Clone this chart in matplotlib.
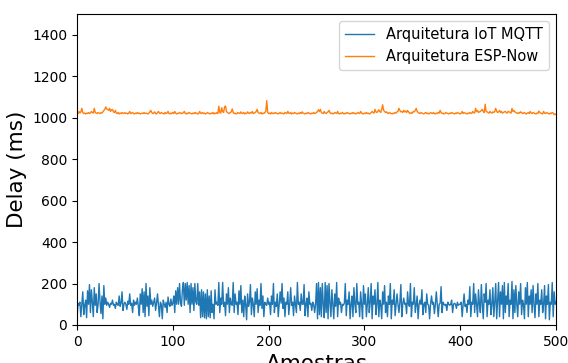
import matplotlib
matplotlib.use('Agg')
import matplotlib.pyplot as plt

# delay readings (ms) per sample
mqtt = [
    30, 105, 95, 110, 40, 100, 160, 50, 95, 120,
    35, 165, 100, 195, 60, 170, 110, 40, 180, 95,
    150, 60, 100, 200, 110, 55, 140, 30, 190, 100,
    130, 95, 110, 100, 85, 105, 100, 120, 95, 100,
    80, 110, 100, 95, 140, 90, 105, 160, 70, 100,
    110, 100, 75, 115, 100, 150, 95, 105, 60, 120,
    95, 110, 100, 130, 90, 45, 150, 100, 175, 60,
    160, 40, 200, 90, 140, 45, 180, 100, 120, 90,
    110, 130, 70, 105, 150, 95, 40, 110, 100, 30,
    120, 100, 85, 110, 60, 135, 100, 90, 125, 95,
    105, 140, 60, 165, 100, 180, 100, 200, 110, 90,
    170, 205, 95, 200, 120, 205, 100, 190, 60, 200,
    100, 180, 70, 200, 110, 100, 200, 95, 160, 35,
    170, 40, 160, 35, 150, 30, 170, 40, 140, 35,
    165, 60, 100, 30, 170, 100, 110, 95, 205, 60,
    130, 100, 205, 90, 110, 45, 150, 100, 180, 60,
    130, 100, 95, 205, 60, 150, 100, 110, 50, 165,
    100, 190, 60, 120, 40, 140, 100, 25, 150, 90,
    110, 195, 50, 130, 100, 40, 160, 100, 175, 60,
    120, 95, 200, 80, 140, 40, 110, 100, 95, 130,
    100, 110, 50, 140, 100, 200, 60, 110, 90, 150,
    40, 100, 160, 105, 200, 80, 130, 40, 110, 100,
    160, 50, 100, 180, 95, 110, 45, 140, 100, 60,
    205, 100, 110, 70, 150, 100, 100, 195, 45, 100,
    130, 40, 160, 100, 105, 70, 110, 100, 60, 100,
    200, 30, 205, 50, 180, 40, 200, 100, 35, 205,
    60, 190, 30, 200, 110, 40, 170, 100, 30, 150,
    90, 205, 40, 130, 100, 110, 60, 100, 95, 105,
    200, 45, 120, 100, 160, 30, 100, 140, 40, 180,
    100, 60, 200, 100, 110, 40, 160, 100, 30, 190,
    100, 150, 40, 100, 180, 60, 110, 200, 30, 140,
    100, 170, 50, 100, 205, 40, 120, 100, 30, 160,
    100, 190, 60, 110, 40, 140, 100, 200, 30, 120,
    100, 170, 45, 100, 150, 100, 60, 110, 195, 40,
    100, 130, 100, 105, 55, 160, 100, 90, 200, 40,
    110, 100, 180, 60, 100, 140, 30, 100, 120, 100,
    170, 50, 100, 110, 60, 150, 100, 95, 30, 100,
    140, 100, 110, 55, 100, 160, 100, 40, 100, 105,
    185, 60, 110, 100, 95, 100, 70, 110, 100, 95,
    100, 120, 60, 100, 105, 100, 80, 110, 95, 100,
    100, 110, 40, 100, 150, 90, 100, 60, 120, 100,
    185, 40, 110, 100, 200, 60, 150, 100, 40, 170,
    100, 60, 195, 100, 30, 150, 110, 200, 40, 120,
    100, 170, 50, 100, 180, 40, 110, 200, 30, 120,
    205, 40, 160, 100, 190, 30, 205, 60, 140, 100,
    200, 40, 120, 100, 210, 30, 170, 60, 190, 100,
    40, 160, 100, 200, 50, 120, 100, 30, 180, 100,
    205, 40, 140, 100, 170, 60, 190, 100, 35, 150,
    100, 200, 40, 120, 100, 170, 60, 100, 190, 30,
    140, 100, 195, 25, 110, 100, 205, 40, 160, 100,
    110,
]

espnow = [
    1025, 1020, 1030, 1022, 1028, 1045, 1025, 1020, 1022, 1018,
    1022, 1020, 1025, 1020, 1023, 1030, 1025, 1022, 1045, 1025,
    1022, 1020, 1025, 1022, 1020, 1024, 1022, 1028, 1035, 1040,
    1052, 1042, 1040, 1035, 1045, 1030, 1038, 1040, 1028, 1025,
    1035, 1022, 1020, 1025, 1018, 1022, 1020, 1025, 1022, 1020,
    1024, 1020, 1022, 1018, 1022, 1030, 1020, 1022, 1025, 1020,
    1018, 1022, 1020, 1025, 1020, 1022, 1018, 1020, 1022, 1020,
    1025, 1020, 1022, 1020, 1018, 1022, 1028, 1035, 1025, 1020,
    1022, 1028, 1020, 1018, 1025, 1030, 1022, 1020, 1025, 1022,
    1020, 1018, 1025, 1020, 1022, 1030, 1020, 1018, 1022, 1020,
    1025, 1020, 1030, 1022, 1018, 1020, 1022, 1025, 1020, 1022,
    1020, 1025, 1030, 1020, 1018, 1022, 1020, 1025, 1022, 1020,
    1018, 1022, 1020, 1025, 1020, 1022, 1018, 1020, 1030, 1022,
    1020, 1025, 1020, 1022, 1018, 1020, 1025, 1022, 1020, 1018,
    1022, 1020, 1025, 1018, 1022, 1020, 1025, 1020, 1055, 1025,
    1022, 1048, 1030, 1025, 1052, 1056, 1030, 1025, 1022, 1020,
    1025, 1028, 1042, 1025, 1020, 1022, 1018, 1020, 1025, 1022,
    1020, 1028, 1022, 1020, 1025, 1018, 1022, 1020, 1028, 1022,
    1020, 1025, 1022, 1030, 1020, 1022, 1025, 1030, 1040, 1025,
    1022, 1020, 1025, 1018, 1022, 1020, 1025, 1030, 1082, 1025,
    1020, 1022, 1018, 1025, 1020, 1022, 1020, 1025, 1022, 1020,
    1018, 1022, 1025, 1020, 1022, 1020, 1018, 1025, 1022, 1020,
    1030, 1022, 1020, 1025, 1018, 1022, 1020, 1025, 1022, 1020,
    1018, 1022, 1020, 1025, 1020, 1028, 1022, 1020, 1018, 1022,
    1020, 1025, 1022, 1020, 1018, 1022, 1020, 1025, 1020, 1022,
    1025, 1030, 1038, 1030, 1040, 1025, 1022, 1020, 1030, 1022,
    1020, 1025, 1028, 1035, 1025, 1020, 1022, 1018, 1020, 1025,
    1022, 1020, 1030, 1020, 1018, 1022, 1020, 1025, 1020, 1018,
    1022, 1020, 1025, 1022, 1020, 1018, 1022, 1020, 1025, 1020,
    1022, 1018, 1020, 1025, 1022, 1020, 1030, 1022, 1020, 1018,
    1022, 1020, 1025, 1020, 1022, 1018, 1020, 1025, 1030, 1025,
    1022, 1040, 1028, 1025, 1030, 1038, 1030, 1025, 1040, 1062,
    1035, 1030, 1025, 1028, 1022, 1020, 1025, 1022, 1020, 1018,
    1022, 1020, 1025, 1022, 1028, 1030, 1045, 1035, 1028, 1030,
    1025, 1035, 1028, 1032, 1025, 1035, 1028, 1022, 1020, 1025,
    1022, 1030, 1028, 1035, 1045, 1030, 1025, 1022, 1020, 1025,
    1022, 1020, 1018, 1022, 1025, 1020, 1022, 1018, 1020, 1025,
    1022, 1020, 1025, 1020, 1018, 1022, 1020, 1025, 1022, 1035,
    1025, 1020, 1022, 1018, 1020, 1025, 1022, 1020, 1018, 1022,
    1020, 1025, 1022, 1020, 1018, 1022, 1020, 1025, 1022, 1020,
    1018, 1022, 1030, 1020, 1025, 1022, 1020, 1018, 1022, 1020,
    1025, 1022, 1020, 1030, 1025, 1022, 1045, 1030, 1035, 1025,
    1028, 1030, 1035, 1040, 1030, 1025, 1065, 1030, 1028, 1025,
    1022, 1030, 1025, 1022, 1028, 1025, 1030, 1045, 1030, 1025,
    1028, 1035, 1025, 1030, 1022, 1025, 1028, 1030, 1025, 1022,
    1030, 1028, 1025, 1022, 1045, 1030, 1035, 1028, 1025, 1022,
    1020, 1025, 1022, 1028, 1025, 1020, 1022, 1025, 1020, 1018,
    1022, 1025, 1020, 1030, 1022, 1020, 1025, 1022, 1020, 1018,
    1022, 1020, 1032, 1025, 1022, 1020, 1018, 1030, 1022, 1020,
    1025, 1022, 1020, 1018, 1022, 1020, 1025, 1022, 1015, 1018,
    1015,
]

fig = plt.figure(figsize=(5.68, 3.63), dpi=100)
ax = fig.add_axes([0.1356, 0.1047, 0.8434, 0.8567])

ax.plot(range(len(mqtt)), mqtt, lw=1, label='Arquitetura IoT MQTT')
ax.plot(range(len(espnow)), espnow, lw=1, label='Arquitetura ESP-Now')

ax.set_xlim(0, 500)
ax.set_ylim(0, 1500)
ax.set_xlabel('Amostras', fontsize=15.5)
ax.set_ylabel('Delay (ms)', fontsize=15.5)
ax.tick_params(labelsize=10)
ax.legend(loc='upper right', fontsize=10.5)

fig.savefig('out.png', dpi=100)
